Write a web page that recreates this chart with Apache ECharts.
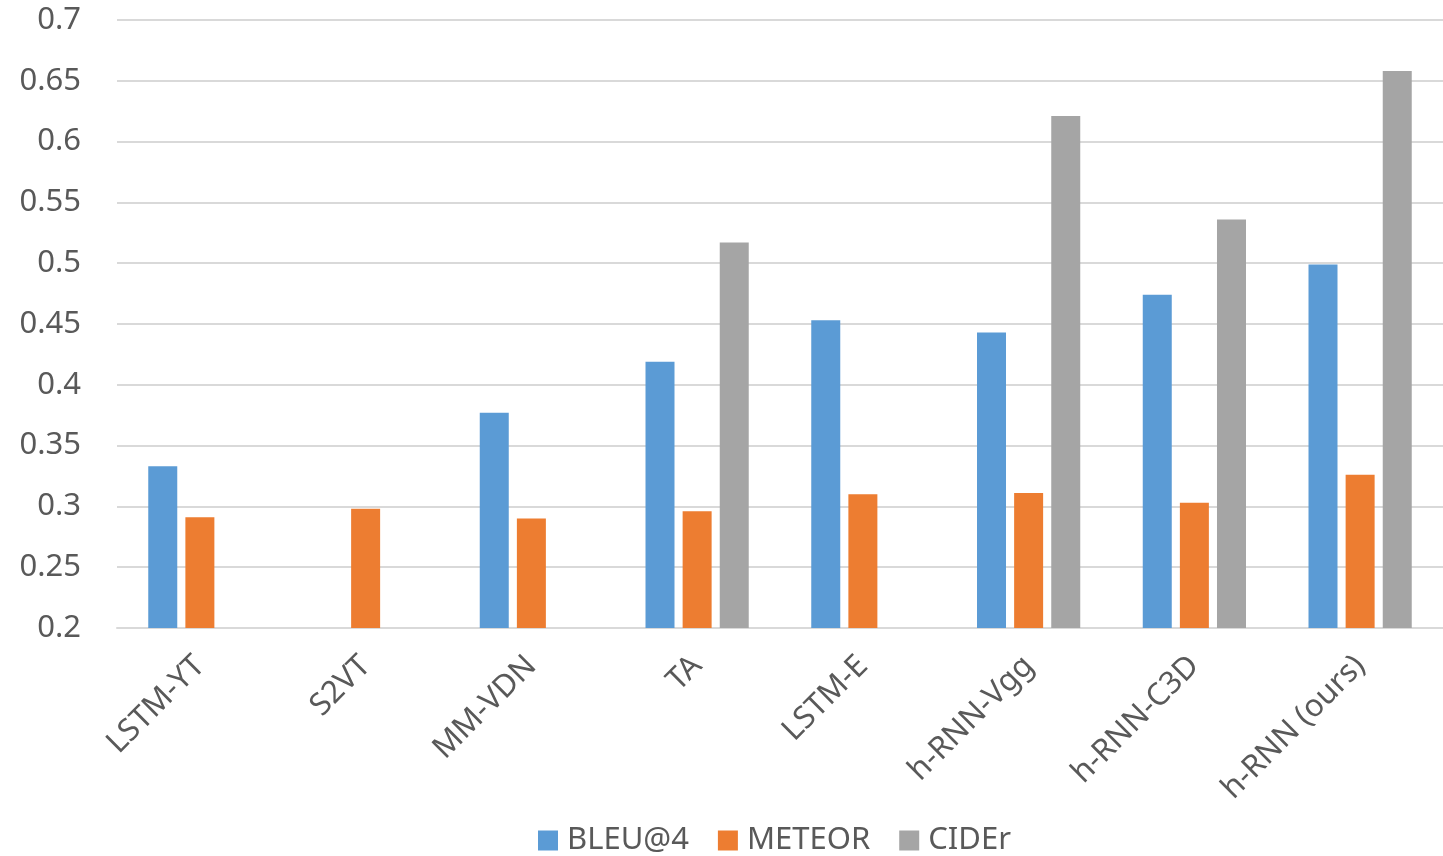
<!DOCTYPE html>
<html>
<head>
<meta charset="utf-8">
<script src="https://cdn.jsdelivr.net/npm/echarts@6/dist/echarts.min.js"></script>
<style>
  html, body { margin: 0; padding: 0; background: #fff; }
  #chart { width: 1443px; height: 856px; }
</style>
</head>
<body>
<div id="chart"></div>
<script>
// Video captioning scores per method
const methods = ['LSTM-YT', 'S2VT', 'MM-VDN', 'TA', 'LSTM-E', 'h-RNN-Vgg', 'h-RNN-C3D', 'h-RNN (ours)'];
const bleu4  = [0.333, null, 0.377, 0.419, 0.453, 0.443, 0.474, 0.499];
const meteor = [0.291, 0.298, 0.290, 0.296, 0.310, 0.311, 0.303, 0.326];
const cider  = [null, null, null, 0.517, null, 0.621, 0.536, 0.658];
const seriesNames = ['BLEU@4', 'METEOR', 'CIDEr'];
const colors = ['#5B9BD5', '#ED7D31', '#A5A5A5'];

const font = '"Noto Sans", "Open Sans", sans-serif';
const textColor = '#595959';

const chart = echarts.init(document.getElementById('chart'), null, { renderer: 'canvas' });

const mkSeries = (name, data, color) => ({
  name,
  type: 'bar',
  data,
  barWidth: 29,
  barGap: '28%',
  itemStyle: { color },
  emphasis: { disabled: true }
});

chart.setOption({
  animation: false,
  color: colors,
  grid: { left: 117, right: 0, top: 20, bottom: 228, containLabel: false },
  legend: {
    bottom: -5,
    left: 533,
    itemWidth: 20,
    itemHeight: 20,
    itemGap: 29,
    icon: 'rect',
    textStyle: { fontFamily: font, fontSize: 31, color: textColor, padding: [0, 0, 0, 4] },
    data: seriesNames
  },
  xAxis: {
    type: 'category',
    data: methods,
    axisLine: { lineStyle: { color: '#D9D9D9', width: 2 } },
    axisTick: { show: false },
    axisLabel: {
      rotate: 45,
      margin: 33,
      interval: 0,
      fontFamily: font,
      fontSize: 31,
      color: textColor
    }
  },
  yAxis: {
    type: 'value',
    min: 0.2,
    max: 0.7,
    interval: 0.05,
    axisLine: { show: false },
    axisTick: { show: false },
    splitLine: { lineStyle: { color: '#D9D9D9', width: 2 } },
    axisLabel: {
      margin: 36,
      fontFamily: font,
      fontSize: 31,
      color: textColor,
      formatter: v => String(parseFloat(v.toFixed(2)))
    }
  },
  series: [
    mkSeries(seriesNames[0], bleu4, colors[0]),
    mkSeries(seriesNames[1], meteor, colors[1]),
    mkSeries(seriesNames[2], cider, colors[2])
  ]
});
</script>
</body>
</html>
